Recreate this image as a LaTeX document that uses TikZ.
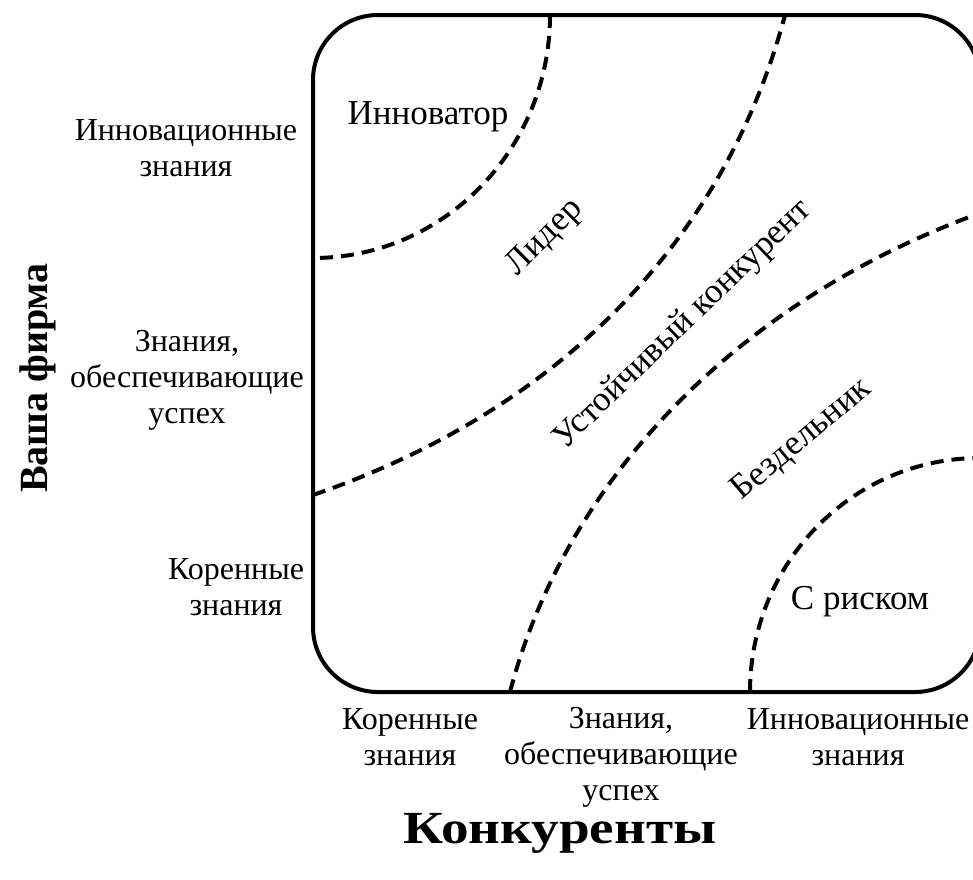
\documentclass[tikz,border=0pt]{standalone}
\usepackage{fontspec}
\setmainfont{Liberation Serif}
\begin{document}
\begin{tikzpicture}[x=1pt,y=-1pt,
  frame/.style={line width=4pt, rounded corners=65pt},
  zone/.style={line width=4pt, dash pattern=on 13pt off 8pt},
  axislbl/.style={font=\fontsize{32}{36}\selectfont, align=center, inner sep=0pt},
  zonelbl/.style={font=\fontsize{35}{40}\selectfont, inner sep=0pt},
  axistitle/.style={font=\fontsize{40}{46}\selectfont\bfseries, inner sep=0pt}]

\useasboundingbox (0,0) rectangle (973,879);

% matrix frame (its right side runs past the page edge)
\draw[frame] (313,15) rectangle (980,692);

% zone boundaries
\draw[zone] (550,15) .. controls (550,149) and (444,258) .. (313,258);
\draw[zone] (313,495) .. controls (560,410) and (725,240) .. (785,15);
\draw[zone] (510,692) .. controls (560,500) and (715,310) .. (980,213);
\draw[zone] (750,692) .. controls (750,563) and (852,458) .. (980,458);

% zone names
\node[zonelbl] (innov) at (428,117) {Инноватор};
\node[zonelbl, rotate=45] (leader) at (545,238) {Лидер};
\node[zonelbl, rotate=44] (stable) at (683,325) {Устойчивый конкурент};
\node[zonelbl, rotate=40] (idler) at (802,440) {Бездельник};
\node[zonelbl] (risk) at (860,602) {С риском};

% vertical axis: own firm
\node[axislbl] (yinnov) at (186,148) {Инновационные\\знания};
\node[axislbl] (ykey) at (187,380) {Знания,\\обеспечивающие\\успех};
\node[axislbl] (ycore) at (236,587) {Коренные\\знания};
\node[axistitle, rotate=90] (ytitle) at (38,378) {Ваша фирма};

% horizontal axis: competitors
\node[axislbl] (xcore) at (410,737) {Коренные\\знания};
\node[axislbl] (xkey) at (621,757) {Знания,\\обеспечивающие\\успех};
\node[axislbl] (xinnov) at (858,737) {Инновационные\\знания};
\node[axistitle, font=\fontsize{46}{52}\selectfont\bfseries, xscale=1.2] (xtitle) at (560,833) {Конкуренты};
\end{tikzpicture}
\end{document}
